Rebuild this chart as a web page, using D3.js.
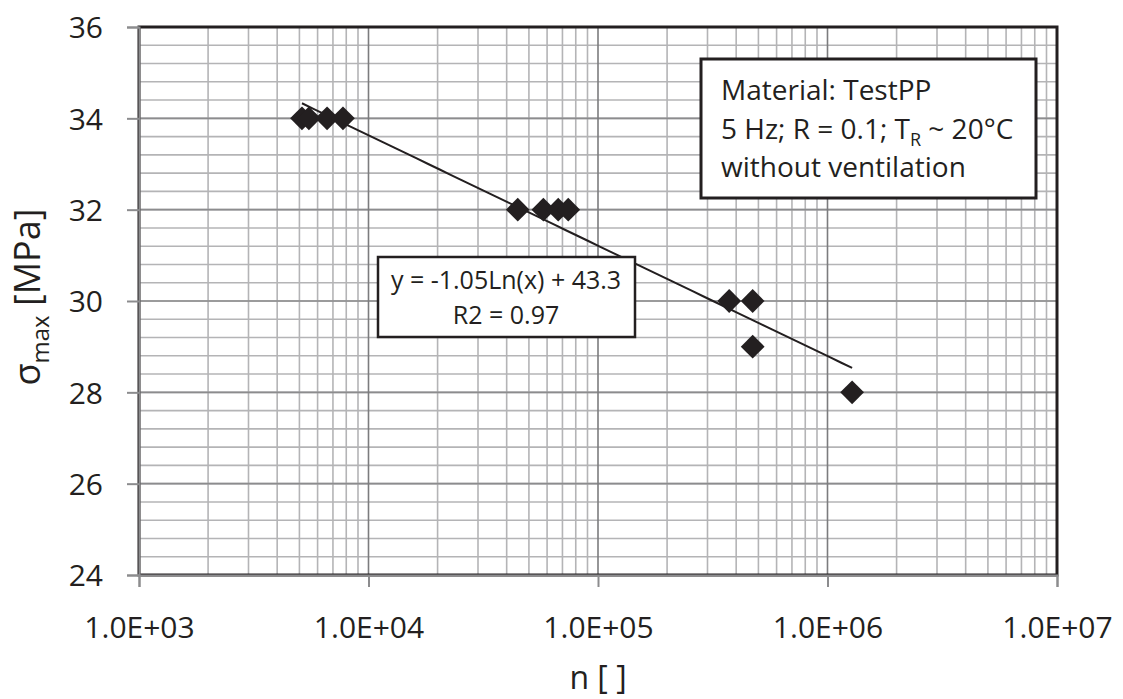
<!DOCTYPE html>
<html>
<head>
<script src="https://d3js.org/d3.v7.min.js"></script>
<style>
  body { margin: 0; background: #fff; }
  svg { display: block; font-family: "Open Sans", sans-serif; }
</style>
</head>
<body>
<div id="chart"></div>
<script>
// cycles to failure and max stress
const cycles = [5130, 5500, 6600, 7740, 44700, 57800, 67100, 74200, 373000, 472000, 472000, 1280000];
const stress = [34, 34, 34, 34, 32, 32, 32, 32, 30, 30, 29, 28];
const xTicks = [1e3, 1e4, 1e5, 1e6, 1e7];
const yTicks = [24, 26, 28, 30, 32, 34, 36];
const fitA = -1.05, fitB = 43.3;
const infoLines = ['Material: TestPP', '5 Hz; R = 0.1; T', 'without ventilation'];
const eqLines = ['y = -1.05Ln(x) + 43.3', 'R2 = 0.97'];

const W = 1123, H = 699;
const m = {left: 139, right: 1057, top: 27, bottom: 575};

const svg = d3.select('#chart').append('svg')
    .attr('width', W).attr('height', H);

const x = d3.scaleLog().domain([1e3, 1e7]).range([m.left, m.right]);
const y = d3.scaleLinear().domain([24, 36]).range([m.bottom, m.top]);

// minor grid
const minorX = [];
for (let d = 1e3; d < 1e7; d *= 10) for (let k = 2; k <= 9; k++) minorX.push(d * k);
const minorY = d3.range(24, 36.001, 0.4);

const grid = svg.append('g');
grid.selectAll('.hy').data(minorY).enter().append('line')
    .attr('x1', m.left).attr('x2', m.right)
    .attr('y1', d => y(d)).attr('y2', d => y(d))
    .attr('stroke', '#b4b4b6').attr('stroke-width', 1.6);
grid.selectAll('.vx').data(minorX).enter().append('line')
    .attr('x1', d => x(d)).attr('x2', d => x(d))
    .attr('y1', m.top).attr('y2', m.bottom)
    .attr('stroke', '#b4b4b6').attr('stroke-width', 1.6);
grid.selectAll('.my').data(yTicks).enter().append('line')
    .attr('x1', m.left).attr('x2', m.right)
    .attr('y1', d => y(d)).attr('y2', d => y(d))
    .attr('stroke', '#8c8c8e').attr('stroke-width', 1.6);
grid.selectAll('.mx').data(xTicks).enter().append('line')
    .attr('x1', d => x(d)).attr('x2', d => x(d))
    .attr('y1', m.top).attr('y2', m.bottom)
    .attr('stroke', '#7c7c7e').attr('stroke-width', 1.6);

// plot border
svg.append('rect')
    .attr('x', m.left).attr('y', m.top)
    .attr('width', m.right - m.left).attr('height', m.bottom - m.top)
    .attr('fill', 'none').attr('stroke', '#231f20').attr('stroke-width', 3);

// axes
const xAxis = svg.append('g')
    .attr('transform', 'translate(0,' + m.bottom + ')')
    .call(d3.axisBottom(x).tickValues(xTicks).tickSize(12).tickPadding(30)
        .tickFormat(d => '1.0E+' + String(Math.round(Math.log10(d))).padStart(2, '0')));
const yAxis = svg.append('g')
    .attr('transform', 'translate(' + m.left + ',0)')
    .call(d3.axisLeft(y).tickValues(yTicks).tickSize(12).tickPadding(24));
[xAxis, yAxis].forEach(a => {
    a.select('.domain').attr('stroke', '#8c8c8e').attr('stroke-width', 2);
    a.selectAll('line').attr('stroke', '#8c8c8e').attr('stroke-width', 2);
    a.selectAll('text').attr('font-family', '"Open Sans", sans-serif')
        .attr('font-size', 30).attr('fill', '#231f20');
});
yAxis.selectAll('text').attr('dy', '0.36em');

// trendline
const lo = Math.log10(d3.min(cycles)), hi = Math.log10(d3.max(cycles));
const fitX = d3.range(lo, hi, 0.05).concat([hi]).map(v => Math.pow(10, v));
svg.append('path')
    .datum(fitX)
    .attr('fill', 'none').attr('stroke', '#231f20').attr('stroke-width', 2)
    .attr('d', d3.line().x(d => x(d)).y(d => y(fitA * Math.log(d) + fitB)));

// points
const diamond = d3.symbol().type(d3.symbolDiamond2).size(360);
svg.selectAll('.pt').data(cycles).enter().append('path')
    .attr('d', diamond)
    .attr('transform', (d, i) => 'translate(' + x(d) + ',' + y(stress[i]) + ')')
    .attr('fill', '#231f20');

// info box
const info = svg.append('g');
info.append('rect').attr('x', 701).attr('y', 59).attr('width', 335).attr('height', 139)
    .attr('fill', '#fff').attr('stroke', '#231f20').attr('stroke-width', 3);
info.selectAll('text').data(infoLines).enter().append('text')
    .attr('x', 721).attr('y', (d, i) => 100 + i * 38.5)
    .attr('font-size', 28).attr('fill', '#231f20')
    .each(function(d, i) {
        const t = d3.select(this);
        t.append('tspan').text(d);
        if (i === 1) {
            t.append('tspan').text('R').attr('font-size', 18).attr('dy', 7);
            t.append('tspan').text(' ~ 20°C').attr('dy', -7);
        }
    });

// equation box
const eq = svg.append('g');
eq.append('rect').attr('x', 378).attr('y', 257).attr('width', 257).attr('height', 80)
    .attr('fill', '#fff').attr('stroke', '#231f20').attr('stroke-width', 2.5);
eq.selectAll('text').data(eqLines).enter().append('text')
    .attr('x', 506).attr('y', (d, i) => 289 + i * 35)
    .attr('text-anchor', 'middle').attr('font-size', 25).attr('fill', '#231f20')
    .text(d => d);

// axis titles
svg.append('text')
    .attr('x', (m.left + m.right) / 2).attr('y', 689)
    .attr('text-anchor', 'middle').attr('font-size', 32).attr('fill', '#231f20')
    .text('n [ ]');
const yt = svg.append('text')
    .attr('transform', 'translate(40,297) rotate(-90)')
    .attr('text-anchor', 'middle').attr('font-size', 36).attr('fill', '#231f20');
yt.append('tspan').text('σ');
yt.append('tspan').text('max').attr('font-size', 24).attr('dy', 9);
yt.append('tspan').text(' [MPa]').attr('dy', -9);
</script>
</body>
</html>
